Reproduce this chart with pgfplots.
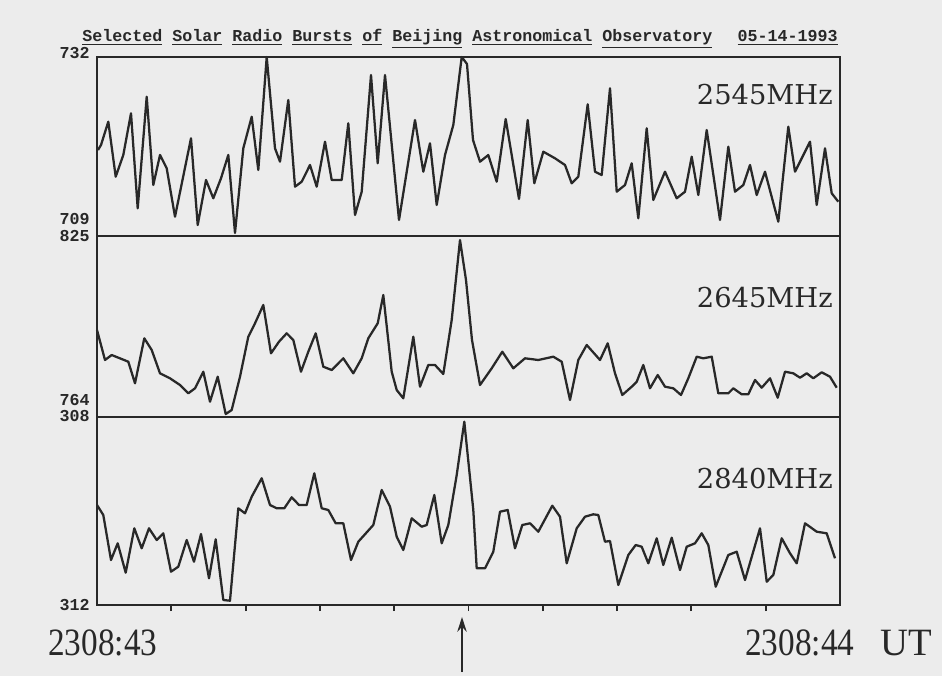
\documentclass[border=0pt]{standalone}
\usepackage{pgfplots}
\pgfplotsset{compat=1.18}
\usepackage{graphicx}
\usepackage{fontspec}
\usetikzlibrary{arrows.meta}
\newfontfamily\dotfont{Liberation Mono}
\newfontfamily\freqfont{DejaVu Serif}
\newfontfamily\timefont{Liberation Serif}
\definecolor{bgc}{RGB}{236,236,236}
\definecolor{ink}{RGB}{40,40,40}
\pgfplotsset{every axis/.append style={line width=1.6pt},
  panel/.style={
  scale only axis, width=557.25pt, xmin=97, xmax=840, y dir=reverse,
  at={(0,0)}, anchor=south west,
  axis line style={line width=1.6pt, draw=ink},
  xtick=\empty, ytick=\empty, clip=false},
  trace/.style={line width=1.7pt, draw=ink, mark=none, line join=round}}
\begin{document}
\begin{tikzpicture}[x=0.75pt,y=0.75pt]
\fill[bgc] (0,0) rectangle (942,676);
% panel 1 : 2545 MHz
\begin{scope}[shift={(97,440)}]
\begin{axis}[panel, height=134.25pt, ymin=57, ymax=236]
\addplot[trace] coordinates {
(98,150) (101,145) (108.3,121.7) (115.7,176.7) (123.3,155) (131,113.3) (137.7,208.3)
(146.7,96.7) (153.3,185) (160,155) (166.7,168.3) (175,216.7) (191,138.3) (197.7,225)
(206,180) (213.3,198.3) (221,178.3) (228.3,155) (235,233) (243.3,148.3) (251.7,116.7)
(258.3,170) (266.7,57) (275,148.3) (280,161.7) (288.3,100) (295,186.7) (301.7,181.7)
(310,165) (316.7,186.7) (325,141.7) (331.7,180) (341.7,180) (348.3,123.3) (355,215)
(361.7,191.7) (371,75) (377.7,163.3) (385,75) (399,220) (415,120) (423.3,171.7)
(430,143.3) (436.7,205) (445,155) (453.3,125) (461.7,57) (467,64) (473,140) (480,161.7)
(488.3,155) (496.7,181.7) (505.7,119) (519,199) (527.7,120) (534.3,183.3) (543.3,151.7)
(555,158.3) (565,165) (571.7,183.3) (578.3,176.7) (587.7,104.3) (595,171.7) (601.7,175)
(610,88.3) (616.7,191.7) (625,185) (631.7,163.3) (638.3,218.3) (646.7,128.3) (653.3,200)
(665,171.7) (676.7,198.3) (685,191.7) (691.7,156.7) (698.3,195) (706.7,130) (720,220)
(728.3,146.7) (735,191.7) (743.3,185) (750,165) (756.7,195) (765,171.7) (778.3,221.7)
(788.3,126.7) (795,171.7) (810,141.7) (816.7,205) (825,148.3) (831.7,193.3) (838.3,201.7)
};
\end{axis}
\end{scope}
% panel 2 : 2645 MHz
\begin{scope}[shift={(97,259)}]
\begin{axis}[panel, height=135.75pt, ymin=236, ymax=417]
\addplot[trace] coordinates {
(97,330) (105,360) (111.7,355) (128.3,361.7) (135,383.3) (144.3,338.3) (151.7,350)
(160,373.3) (170,378.3) (180,385) (188.3,393.3) (195,388.3) (203.3,371.7) (210,401.7)
(217.7,376.7) (225.7,414) (231.7,410) (240,376.7) (248.3,336.7) (255,323.3) (263.3,305)
(271,353.3) (279,341.7) (286.7,333.3) (293.3,340) (301,371.7) (308.3,351.7) (315.7,333.3)
(323.3,366.7) (331.7,370) (343.3,358.3) (353.3,373.3) (361.7,358.3) (368.3,338.3)
(377.7,323.3) (383.3,295) (391.7,371.7) (396.7,390) (403.3,398.3) (413.3,336.7)
(420,386.7) (428.3,365) (435,365) (443.3,374) (451.7,320) (460,240) (466,280) (472,340)
(480,385) (491.7,368.3) (502.3,351.7) (513.3,368.3) (525,358.3) (538.3,360) (553.3,356.7)
(561.7,361.7) (570,400) (578.3,360) (586.7,345) (600,360) (607.7,343.3) (615,373.3)
(622.3,395) (631.7,386.7) (636.7,381.7) (643.3,365) (650,388.3) (657.7,375) (665,386.7)
(673.3,388.3) (681,395) (688.3,378.3) (696.7,356.7) (703.3,358.3) (711.7,356.7)
(718.3,393.3) (728.3,393.3) (733.3,388.3) (741.7,394.3) (748.3,394.3) (755,380)
(761.7,387.7) (770,378.3) (777.7,397.7) (785,371.7) (793.3,373.3) (800,377.7)
(806.7,373.3) (813.3,378.3) (821.7,372.3) (830,376.7) (836.7,387.7)
};
\end{axis}
\end{scope}
% panel 3 : 2840 MHz
\begin{scope}[shift={(97,71)}]
\begin{axis}[panel, height=141pt, ymin=417, ymax=605,
  xtick={171.3,245.6,319.9,394.2,468.5,542.8,617.1,691.4,765.7}, xticklabels={},
  tick pos=bottom, tick align=outside, major tick length=4.5pt,
  tick style={line width=1.4pt, draw=ink}]
\addplot[trace] coordinates {
(97,505) (103.3,515) (111,560) (117.7,543.3) (125.7,572.7) (134.3,528.3) (141.7,548.3)
(149,528.3) (156.7,540) (163.3,533.3) (171,571.7) (178.3,566.7) (186.7,540) (194,561.7)
(201,534) (209,578.3) (215.7,539.3) (223.3,600) (230,600.7) (238.3,508.3) (245,513.3)
(251.7,496.7) (261.7,478.3) (270,505) (276.7,508.3) (284.3,508.3) (291.7,497.3) (299,505)
(306.7,505) (314.3,473.3) (321.7,508.3) (328.3,510) (335.7,523.3) (343.3,523.3) (351,560)
(358.3,541.7) (373.3,525) (381.7,490) (390,506.7) (396.7,536.7) (403.3,550) (411.7,518.3)
(421.7,526.7) (426.7,525) (434.3,495) (441.7,543.3) (448.3,525) (456.7,475) (464.3,421.7)
(473.3,510) (476.7,568.3) (485,568.3) (493.3,551.7) (500,511.7) (507.7,510) (515,548.3)
(522.3,525) (530,523.3) (538.3,531.7) (552.3,505.7) (560,516.7) (566.7,563.3) (576.7,528.3)
(585,516.7) (593.3,514.3) (598.3,515) (605,541.7) (610,541) (618.3,585) (628.3,555)
(635.7,545) (641.7,546.7) (648.3,563.3) (656.7,538.3) (663.3,565) (671.7,537.7) (680,570)
(686.7,546.7) (695,543.3) (701.7,533.3) (708.3,545) (715.7,586.7) (728.3,555) (736.7,551.7)
(745,580) (760,528.3) (766.7,581.7) (773.3,575) (781.7,538.3) (790,553.3) (796.7,563.3)
(805,523.3) (816.7,531.7) (826.7,533.3) (835,558.3)
};
\end{axis}
\end{scope}
% title
\node[anchor=base west, inner sep=0, text=ink] at (82,634)
  {\dotfont\bfseries\fontsize{12.5}{14}\selectfont \underline{Selected} \underline{Solar} \underline{Radio} \underline{Bursts} \underline{of} \underline{Beijing} \underline{Astronomical} \underline{Observatory}};
\node[anchor=base east, inner sep=0, text=ink] at (838,634)
  {\dotfont\bfseries\fontsize{12.5}{14}\selectfont \underline{05-14-1993}};
% range labels
\begin{scope}[every node/.style={anchor=east, inner sep=0, text=ink, font=\dotfont\bfseries\fontsize{12.5}{14}\selectfont}]
\node at (90,623) {732};
\node at (90,457) {709};
\node at (90,440) {825};
\node at (90,276) {764};
\node at (90,260) {308};
\node at (90,71) {312};
\end{scope}
% frequency labels
\begin{scope}[every node/.style={anchor=base east, inner sep=0, text=ink, font=\freqfont\fontsize{20.5}{24}\selectfont}]
\node at (833,571) {2545MHz};
\node at (833,369) {2645MHz};
\node at (833,188) {2840MHz};
\end{scope}
% time labels
\begin{scope}[every node/.style={anchor=base west, inner sep=0, text=ink, font=\timefont\fontsize{29}{32}\selectfont}]
\node at (48,21) {\scalebox{0.86}[1]{2308:43}};
\node at (745,21) {\scalebox{0.86}[1]{2308:44}};
\node at (880,21) {UT};
\end{scope}
\draw[-{Stealth[length=11pt,width=7pt]}, line width=1.5pt, draw=ink, fill=ink] (462,4) -- (462,59);
\end{tikzpicture}
\end{document}
